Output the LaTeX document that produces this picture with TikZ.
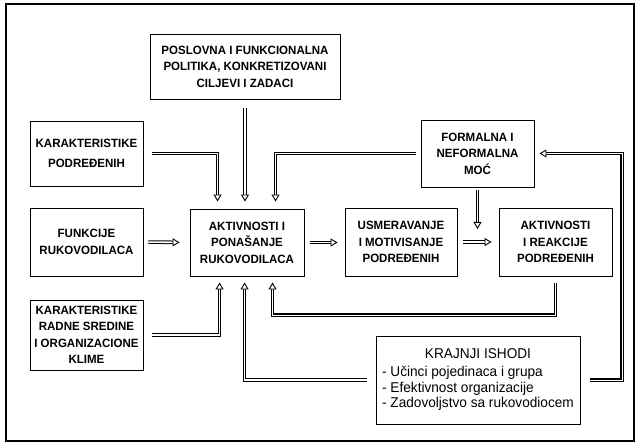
\documentclass[tikz,border=0pt]{standalone}
\usepackage{fontspec}
\setmainfont{Liberation Sans}
\newfontfamily\bxfont[FakeStretch=0.96]{Liberation Sans}
\usetikzlibrary{arrows.meta,calc}
\begin{document}
\begin{tikzpicture}[x=1pt,y=1pt,
  box/.style={draw,line width=0.9pt,align=center,inner sep=0pt,
    font=\bxfont\bfseries\fontsize{12}{16.5}\selectfont},
  dbl/.style={double,double distance=1.6pt,line width=1pt,line join=miter,
    -{Triangle[open,length=7pt,width=8pt,line width=0.9pt]}},
  heavy/.style={dbl,line width=1.4pt,double distance=0.3pt}]
\useasboundingbox (0,0) rectangle (640,445);
\draw[line width=1.3pt] (6,4) rectangle (634,441);
\node[box,minimum width=190pt,minimum height=65pt] (top) at (245,378.5)
  {POSLOVNA I FUNKCIONALNA\\POLITIKA, KONKRETIZOVANI\\CILJEVI I ZADACI};
\node[box,minimum width=113pt,minimum height=65pt] (kpod) at (86.5,291.5)
  {KARAKTERISTIKE\\[3pt]PODREĐENIH};
\node[box,minimum width=113pt,minimum height=67pt] (formal) at (477.5,291.5)
  {FORMALNA I\\NEFORMALNA\\MOĆ};
\node[box,minimum width=113pt,minimum height=68pt] (funk) at (86.5,203)
  {FUNKCIJE\\RUKOVODILACA};
\node[box,minimum width=114pt,minimum height=67pt] (akt) at (247,202.5)
  {AKTIVNOSTI I\\PONAŠANJE\\RUKOVODILACA};
\node[box,minimum width=112pt,minimum height=68pt] (usm) at (401,203)
  {USMERAVANJE\\I MOTIVISANJE\\PODREĐENIH};
\node[box,minimum width=113pt,minimum height=68pt] (reak) at (555.5,203)
  {AKTIVNOSTI\\I REAKCIJE\\PODREĐENIH};
\node[box,minimum width=113pt,minimum height=70pt] (krs) at (86.5,110)
  {KARAKTERISTIKE\\RADNE SREDINE\\I ORGANIZACIONE\\KLIME};
\node[draw,line width=0.9pt,minimum width=204pt,minimum height=88pt,inner sep=0pt,
  font=\bxfont\fontsize{14.2}{15.5}\selectfont] (ishod) at (478,65)
  {\begin{tabular}{@{}l@{}}\multicolumn{1}{@{}c@{}}{KRAJNJI ISHODI}\\[3pt]
   - Učinci pojedinaca i grupa\\- Efektivnost organizacije\\- Zadovoljstvo sa rukovodiocem\end{tabular}};
\coordinate (mj) at (477.5,216);
\coordinate (rc) at (555.5,130);
\coordinate (fc) at (622,291.5);
% connectors
\draw[dbl,shorten <=9pt,shorten >=7pt] (kpod.east) -| ($(akt.north west)+(28,0)$);
\draw[dbl,shorten <=9pt,shorten >=7pt] (top.south) -- (top.south |- akt.north);
\draw[dbl,shorten <=5pt,shorten >=7pt] (formal.west) -| ($(akt.north west)+(86,0)$);
\draw[dbl,shorten <=5pt,shorten >=10pt] (funk.east) -- (akt.west);
\draw[dbl,shorten <=6pt,shorten >=7pt] (akt.east) -- (akt.east -| usm.west);
\draw[dbl,shorten <=6pt,shorten >=7pt] (usm.east) -- (usm.east -| reak.west);
\draw[dbl,shorten <=3pt] (formal.south) -- (mj);
\draw[dbl,shorten <=9pt,shorten >=6pt] (krs.east) -| ($(akt.south west)+(30,0)$);
\draw[dbl,shorten <=9pt,shorten >=6pt] (ishod.west) -| ($(akt.south west)+(55,0)$);
\draw[heavy,shorten <=7pt,shorten >=6pt] (reak.south) -- (rc) -| ($(akt.south west)+(83,0)$);
\draw[heavy,shorten <=10pt,shorten >=5pt] (ishod.east) -| (fc) -- (formal.east);
\end{tikzpicture}
\end{document}
